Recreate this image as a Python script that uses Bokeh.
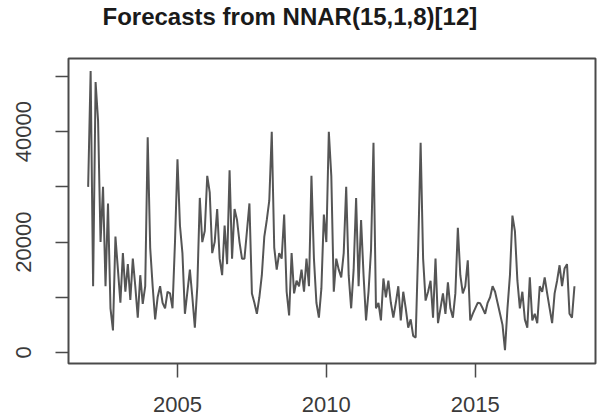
from bokeh.plotting import figure
from bokeh.models import Range1d, FixedTicker, Title
from bokeh.embed import file_html
from bokeh.resources import INLINE

# ---- data (monthly values, thousands) ----
start_year = 2002
values_k = [
    30, 51, 12, 49, 42, 20, 30, 12, 27, 8, 4, 21,
    15, 9, 18, 11, 16, 9.5, 17, 12, 6.3, 14, 8.8, 12,
    39, 19, 12, 6, 10, 12, 9, 8, 11, 10.7, 8, 20,
    35, 23, 18, 7, 11, 15, 10, 4.5, 12, 28, 20, 22,
    32, 29, 18, 20, 26, 17, 14, 23, 16, 33, 17, 26,
    24, 20, 17, 17, 22, 27, 10.7, 9, 7, 10, 14, 21,
    24, 27.5, 40, 19, 15, 18, 17, 25, 11, 6.7, 18, 10.7,
    13, 12, 15, 11, 17, 12, 32, 17, 9, 6.3, 11.6, 25,
    20, 40, 32, 11, 17, 15, 13.6, 18, 30, 14, 8, 15,
    28, 12, 24, 14, 5.8, 11, 18.5, 38, 8, 9, 5.8, 13.4,
    10, 13, 9, 6.3, 9, 12, 5.8, 11, 8, 4.5, 6, 3,
    2.7, 18.5, 38, 17, 9.4, 11, 13, 6.3, 17, 5.3, 8, 10.7,
    7, 12.7, 8, 6.3, 10.7, 22.6, 14, 10.7, 12, 16.7, 5.8, 7,
    8, 9, 8.9, 8, 7, 9, 10, 12, 11, 9, 7, 5,
    0.4, 8, 14, 24.8, 22, 13, 8, 11, 6, 4.5, 13.6, 5.8,
    7, 5.3, 12, 11, 13.6, 10.7, 8, 5.3, 10.7, 13, 15.8, 12,
    15.2, 16, 7, 6.3, 12,
]
values = [v * 1000 for v in values_k]
time = [start_year + i / 12 for i in range(len(values))]

title_text = "Forecasts from NNAR(15,1,8)[12]"
x_ticks = [2005, 2010, 2015]
y_ticks = [0, 10000, 20000, 30000, 40000, 50000]
y_tick_labels = {0: "0", 10000: "", 20000: "20000", 30000: "", 40000: "40000", 50000: ""}

FONT = "Liberation Sans"
INK = "#3a3a3a"

p = figure(
    width=598, height=417, title=None,
    output_backend="svg", toolbar_location=None,
    x_range=Range1d(2001.34, 2019.04), y_range=Range1d(-2000, 53260),
    min_border_left=68, min_border_right=3, min_border_top=58, min_border_bottom=54,
    background_fill_color="white", border_fill_color="white",
)
p.grid.visible = False
p.outline_line_color = "#4a4a4a"
p.outline_line_width = 2

p.line(time, values, line_color="#555555", line_width=2)

# spacing between the frame and the title (blank title row)
p.add_layout(Title(text=" ", text_font=FONT, text_font_size="24px", standoff=0), "above")
# main title
p.add_layout(Title(
    text=title_text, align="left", offset=34, standoff=0,
    text_font=FONT, text_font_size="24px", text_font_style="bold",
    text_color="#1a1a1a",
), "above")

# x axis
xa = p.xaxis[0]
xa.ticker = FixedTicker(ticks=x_ticks)
xa.minor_tick_line_color = None
xa.axis_line_color = None
xa.major_tick_in = 0
xa.major_tick_out = 14
xa.major_tick_line_color = "#4a4a4a"
xa.major_tick_line_width = 1.5
xa.major_label_standoff = 19
xa.major_label_text_font = FONT
xa.major_label_text_font_size = "22px"
xa.major_label_text_color = INK

# y axis
ya = p.yaxis[0]
ya.ticker = FixedTicker(ticks=y_ticks)
ya.major_label_overrides = {k: v for k, v in y_tick_labels.items()}
ya.minor_tick_line_color = None
ya.axis_line_color = None
ya.major_tick_in = 0
ya.major_tick_out = 13
ya.major_tick_line_color = "#4a4a4a"
ya.major_tick_line_width = 1.5
ya.major_label_orientation = "vertical"
ya.major_label_standoff = 24
ya.major_label_text_font = FONT
ya.major_label_text_font_size = "22px"
ya.major_label_text_color = INK

open("out.html", "w").write(file_html(p, INLINE))
